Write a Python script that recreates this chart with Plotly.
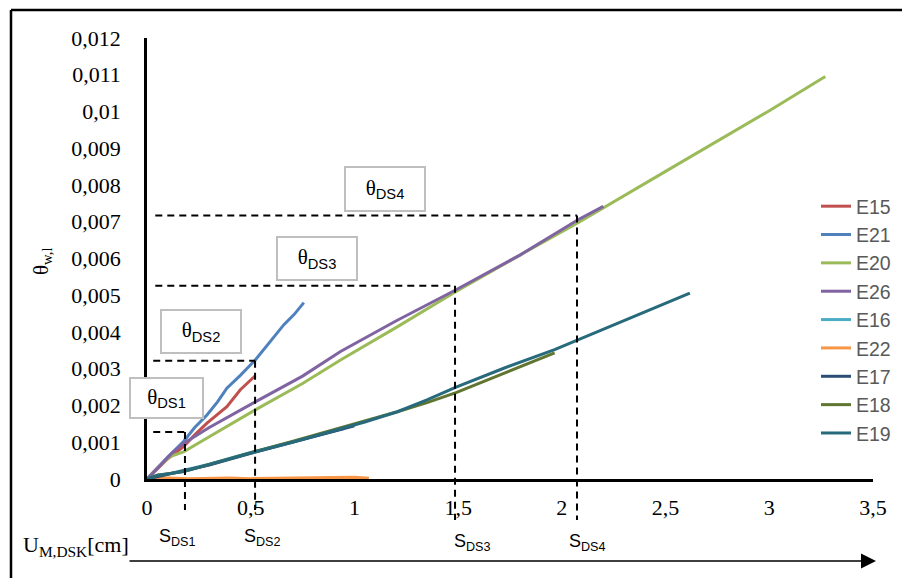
import plotly.graph_objects as go

# ---------------- data ----------------
e15_x = [0, 0.05, 0.10, 0.176, 0.23, 0.289, 0.34, 0.385, 0.45, 0.49, 0.522]
e15_y = [0, 0.00028, 0.00055, 0.00088, 0.0012, 0.00152, 0.00175, 0.00197, 0.00243, 0.00265, 0.00281]

e21_x = [0, 0.05, 0.10, 0.176, 0.23, 0.289, 0.34, 0.385, 0.45, 0.522, 0.57, 0.611, 0.66, 0.71, 0.756]
e21_y = [0, 0.0003, 0.0006, 0.00102, 0.0014, 0.00174, 0.0021, 0.00247, 0.00282, 0.00324, 0.00358, 0.00388, 0.0042, 0.00448, 0.0048]

e20_x = [0, 0.05, 0.111, 0.176, 0.3, 0.522, 0.75, 0.933, 1.2, 1.49, 1.8, 2.08, 2.5, 3.0, 3.27]
e20_y = [0, 0.0003, 0.00061, 0.00074, 0.00115, 0.00188, 0.0026, 0.00324, 0.00412, 0.0051, 0.0061, 0.00698, 0.00837, 0.01002, 0.01095]

e26_x = [0, 0.05, 0.127, 0.176, 0.3, 0.522, 0.75, 0.933, 1.2, 1.49, 1.8, 2.08, 2.2]
e26_y = [0, 0.0003, 0.00074, 0.00097, 0.0014, 0.0021, 0.0028, 0.00347, 0.0043, 0.00515, 0.0061, 0.00706, 0.00742]

e16_x = [0, 0.1, 0.3, 0.5, 0.7, 0.9, 0.95]
e16_y = [0, 0.00013, 0.0004, 0.00072, 0.00101, 0.0013, 0.00137]

e22_x = [0, 0.1, 0.2, 0.3, 0.4, 0.5, 0.6, 0.7, 0.8, 0.9, 1.0, 1.07]
e22_y = [0, 0.00003, 0.00001, 0.00002, 0.00003, 0.00001, 0.00002, 0.00003, 0.00002, 0.00004, 0.00005, 0.00002]

e17_x = [0, 0.1, 0.3, 0.5, 0.7, 0.9, 1.0]
e17_y = [0, 0.00012, 0.00038, 0.0007, 0.001, 0.0013, 0.00145]

e18_x = [0, 0.05, 0.176, 0.35, 0.522, 0.7, 0.885, 1.05, 1.207, 1.35, 1.49, 1.723, 1.965]
e18_y = [0, 0.0001, 0.0002, 0.00048, 0.00075, 0.00102, 0.00131, 0.00158, 0.00183, 0.00208, 0.00235, 0.00288, 0.00343]

e19_x = [0, 0.05, 0.176, 0.35, 0.522, 0.7, 0.885, 1.05, 1.207, 1.35, 1.49, 1.723, 1.965, 2.08, 2.35, 2.617]
e19_y = [0, 0.0001, 0.0002, 0.00048, 0.00074, 0.001, 0.00129, 0.00155, 0.00183, 0.00215, 0.0025, 0.00302, 0.00352, 0.00379, 0.00442, 0.00506]

# damage-state thresholds (displacement S_DS, rotation theta_DS)
ds_names = ["DS1", "DS2", "DS3", "DS4"]
s_ds = [0.183, 0.521, 1.485, 2.073]
theta_ds = [0.00128, 0.00322, 0.00526, 0.00717]

x_tickvals = [0, 0.5, 1, 1.5, 2, 2.5, 3, 3.5]
x_ticktext = ["0", "0,5", "1", "1,5", "2", "2,5", "3", "3,5"]
y_tickvals = [0, 0.001, 0.002, 0.003, 0.004, 0.005, 0.006, 0.007, 0.008, 0.009, 0.01, 0.011, 0.012]
y_ticktext = ["0", "0,001", "0,002", "0,003", "0,004", "0,005", "0,006", "0,007", "0,008", "0,009", "0,01", "0,011", "0,012"]

series = [
    ("E15", e15_x, e15_y, "#C0504D"),
    ("E21", e21_x, e21_y, "#4F81BD"),
    ("E20", e20_x, e20_y, "#9BBB59"),
    ("E26", e26_x, e26_y, "#8064A2"),
    ("E16", e16_x, e16_y, "#4BACC6"),
    ("E22", e22_x, e22_y, "#F79646"),
    ("E17", e17_x, e17_y, "#2C4D75"),
    ("E18", e18_x, e18_y, "#5F7530"),
    ("E19", e19_x, e19_y, "#276A7C"),
]

# ---------------- layout geometry (pixels) ----------------
W, H = 902, 578
L, R, T, B = 147, 873, 38, 479


def px_x(px):
    return (px - L) / (R - L)


def px_y(py):
    return (B - py) / (B - T)


SERIF = "Liberation Serif"
SANS = "Liberation Sans"

fig = go.Figure()
for name, xs, ys, col in series:
    fig.add_trace(go.Scatter(x=xs, y=ys, mode="lines", name=name,
                             line=dict(color=col, width=3)))

fig.update_layout(
    width=W, height=H,
    margin=dict(l=L, r=W - R, t=T, b=H - B, autoexpand=False),
    paper_bgcolor="white", plot_bgcolor="white",
    showlegend=True,
    legend=dict(x=px_x(816), y=px_y(187), xanchor="left", yanchor="top",
                font=dict(family=SANS, size=19.5, color="#595959"),
                bgcolor="rgba(0,0,0,0)", tracegroupgap=0),
    xaxis=dict(range=[0, 3.5], tickvals=x_tickvals, ticktext=x_ticktext,
               showgrid=False, zeroline=False, showline=True,
               linecolor="black", linewidth=2.5, layer="below traces",
               ticks="outside", ticklen=7, tickcolor="rgba(0,0,0,0)",
               tickfont=dict(family=SERIF, size=22, color="black")),
    yaxis=dict(range=[0, 0.012], tickvals=y_tickvals, ticktext=y_ticktext,
               showgrid=False, zeroline=False, showline=True,
               linecolor="black", linewidth=2.5, layer="below traces",
               ticks="outside", ticklen=19, tickcolor="rgba(0,0,0,0)",
               tickfont=dict(family=SERIF, size=22, color="black")),
)

shapes = []
# frame (top and left edges)
shapes.append(dict(type="line", xref="paper", yref="paper",
                   x0=px_x(11), x1=px_x(902), y0=px_y(10), y1=px_y(10),
                   line=dict(color="black", width=2.5)))
shapes.append(dict(type="line", xref="paper", yref="paper",
                   x0=px_x(11), x1=px_x(11), y0=px_y(10), y1=px_y(578),
                   line=dict(color="black", width=2.5)))

dash_bottoms = [510, 510, 520, 520]
h_starts = [0.03, 0.03, 0.04, 0.04]
for s, th, yb, xs0 in zip(s_ds, theta_ds, dash_bottoms, h_starts):
    shapes.append(dict(type="line", xref="x", yref="y", x0=xs0, x1=s, y0=th, y1=th,
                       line=dict(color="black", width=2, dash="7px,5px")))
    shapes.append(dict(type="line", xref="x", yref="paper", x0=s, x1=s,
                       y0=th / 0.012, y1=px_y(yb),
                       line=dict(color="black", width=2, dash="7px,5px")))
fig.update_layout(shapes=shapes)

ann = []
# theta boxes (center px, w, h)
boxes = [(166.5, 398, 71, 38), (201, 331.5, 78, 41), (317, 258.5, 78, 41), (385, 189, 78, 42)]
for nm, (cx, cy, bw, bh) in zip(ds_names, boxes):
    ann.append(dict(xref="paper", yref="paper", x=px_x(cx), y=px_y(cy),
                    xanchor="center", yanchor="middle", showarrow=False,
                    text="θ<sub><span style='font-family:Liberation Sans'>" + nm + "</span></sub>",
                    font=dict(family=SERIF, size=21, color="black"),
                    bgcolor="white", bordercolor="#BFBFBF", borderwidth=2,
                    borderpad=0, width=bw, height=bh))

# S labels
s_label_pos = [(177, 537), (262, 537), (472, 542), (587, 542)]
for nm, (cx, cy) in zip(ds_names, s_label_pos):
    ann.append(dict(xref="paper", yref="paper", x=px_x(cx), y=px_y(cy),
                    xanchor="center", yanchor="middle", showarrow=False,
                    text="S<sub>" + nm + "</sub>",
                    font=dict(family=SANS, size=18, color="black")))

# axis titles
ann.append(dict(xref="paper", yref="paper", x=px_x(76), y=px_y(546),
                xanchor="center", yanchor="middle", showarrow=False,
                text="U<sub>M,DSK</sub>[cm]",
                font=dict(family=SERIF, size=22, color="black")))
ann.append(dict(xref="paper", yref="paper", x=px_x(42), y=px_y(262),
                xanchor="center", yanchor="middle", showarrow=False,
                textangle=-90, text="θ<sub>w,l</sub>",
                font=dict(family=SERIF, size=21, color="black")))
# arrow under x axis
ann.append(dict(xref="paper", yref="paper", x=px_x(876), y=px_y(561),
                ax=128 - 876, ay=0, axref="pixel", ayref="pixel",
                showarrow=True, text="", arrowhead=2, arrowsize=2,
                arrowwidth=1.5, arrowcolor="black", standoff=0))
fig.update_layout(annotations=ann)

fig.write_html("out.html", config={"displayModeBar": False},
               post_script="document.body.style.margin='0';document.body.style.overflow='hidden';")
